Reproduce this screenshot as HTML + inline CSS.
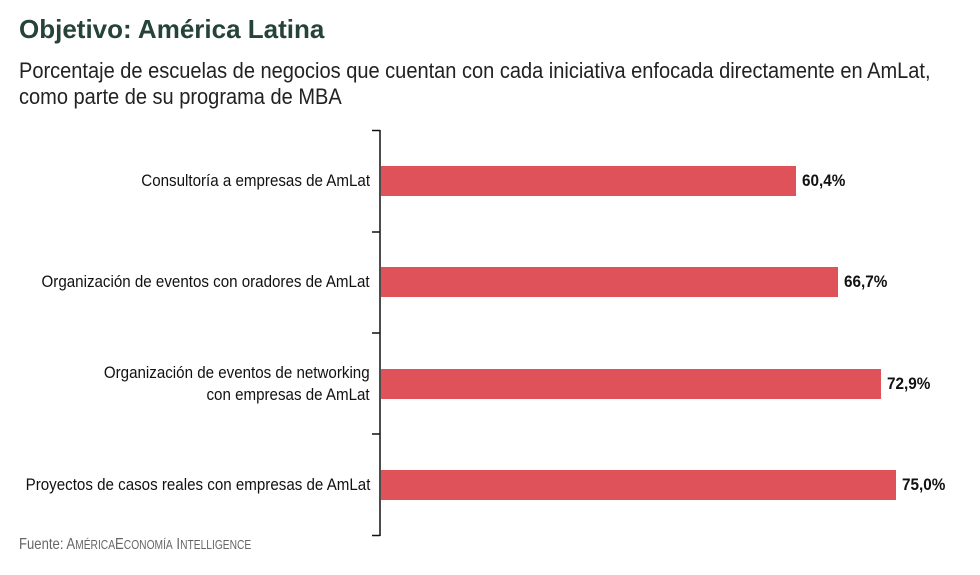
<!DOCTYPE html>
<html><head><meta charset="utf-8"><style>
body{margin:0;width:980px;height:575px;background:#fff;position:relative;overflow:hidden;font-family:"Liberation Sans",sans-serif;}
.t{position:absolute;left:19px;top:14px;font-weight:bold;font-size:26px;color:#25433a;}
.s{position:absolute;left:19px;top:58px;font-size:22px;line-height:26px;color:#222;white-space:nowrap;transform:scaleX(0.91);transform-origin:0 0;}
.l{position:absolute;right:610px;font-size:17px;color:#111;text-align:right;line-height:22px;white-space:nowrap;transform:scaleX(0.89);transform-origin:100% 0;}
.b{position:absolute;left:381px;height:30px;background:#e0525a;}
.v{position:absolute;font-weight:bold;font-size:17px;color:#111;transform:scaleX(0.9);transform-origin:0 0;}
.f{position:absolute;left:19px;top:536px;font-size:16px;color:#666;white-space:nowrap;transform:scaleX(0.82);transform-origin:0 0;}
</style></head><body>
<div class="t">Objetivo: América Latina</div>
<div class="s">Porcentaje de escuelas de negocios que cuentan con cada iniciativa enfocada directamente en AmLat,<br>como parte de su programa de MBA</div>
<svg width="980" height="575" style="position:absolute;left:0;top:0">
<g stroke="#111" stroke-width="1.5" fill="none">
<line x1="380" y1="130" x2="380" y2="536"/>
<line x1="372" y1="130.5" x2="380" y2="130.5"/>
<line x1="372" y1="232" x2="380" y2="232"/>
<line x1="372" y1="333" x2="380" y2="333"/>
<line x1="372" y1="434" x2="380" y2="434"/>
<line x1="372" y1="535.5" x2="380" y2="535.5"/>
</g></svg>
<div class="l" style="top:170px">Consultoría a empresas de AmLat</div>
<div class="l" style="top:271px">Organización de eventos con oradores de AmLat</div>
<div class="l" style="top:362px">Organización de eventos de networking<br>con empresas de AmLat</div>
<div class="l" style="top:474px">Proyectos de casos reales con empresas de AmLat</div>
<div class="b" style="top:166px;width:415px"></div>
<div class="b" style="top:267px;width:457px"></div>
<div class="b" style="top:369px;width:500px"></div>
<div class="b" style="top:470px;width:515px"></div>
<div class="v" style="left:802px;top:171px">60,4%</div>
<div class="v" style="left:844px;top:272px">66,7%</div>
<div class="v" style="left:887px;top:374px">72,9%</div>
<div class="v" style="left:902px;top:475px">75,0%</div>
<div class="f">Fuente: A<span style="font-size:12.5px">MÉRICA</span>E<span style="font-size:12.5px">CONOMÍA</span> I<span style="font-size:12.5px">NTELLIGENCE</span></div>
</body></html>
